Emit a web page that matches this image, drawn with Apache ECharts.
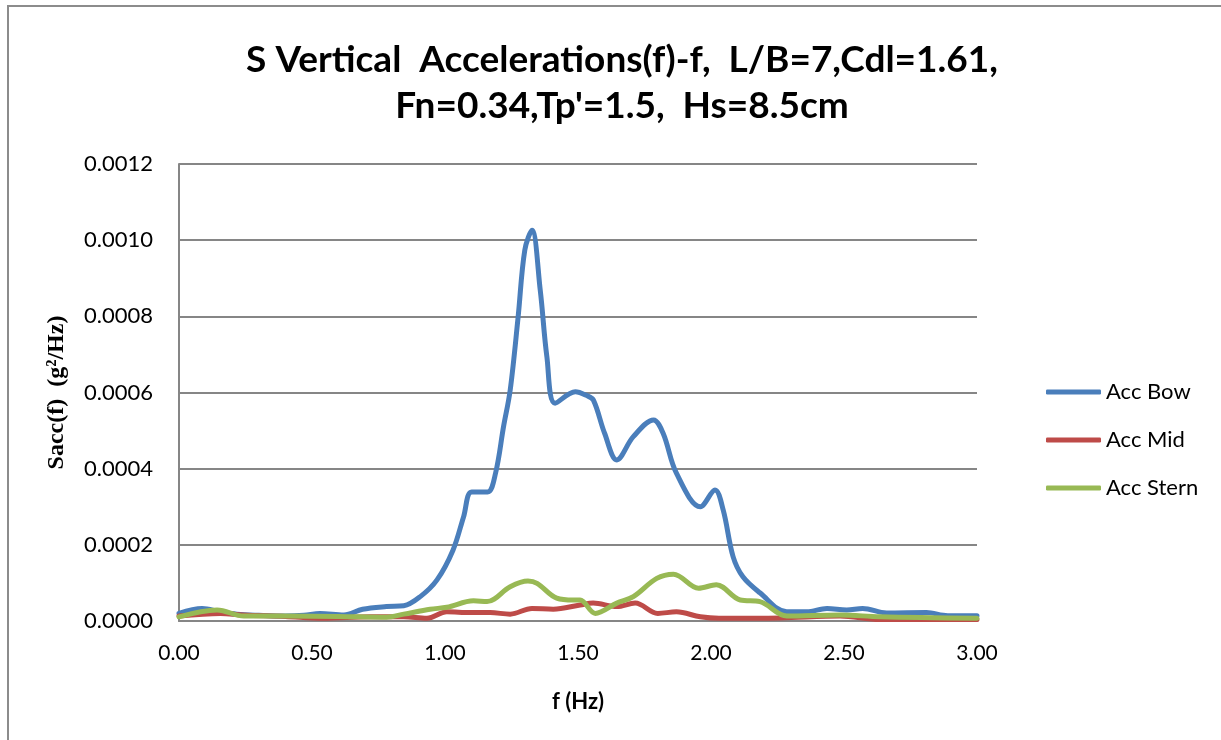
<!DOCTYPE html>
<html>
<head>
<meta charset="utf-8">
<script src="https://cdn.jsdelivr.net/npm/echarts@6/dist/echarts.min.js"></script>
<style>
  html, body { margin: 0; padding: 0; background: #fff; }
  #chart { width: 1221px; height: 740px; }
</style>
</head>
<body>
<div id="chart"></div>
<script>
// Spectral density of vertical accelerations, frequency (Hz) vs Sacc(f) (g²/Hz)
const titleLines = ["S Vertical  Accelerations(f)-f,  L/B=7,Cdl=1.61,", "Fn=0.34,Tp'=1.5,  Hs=8.5cm"];
const seriesNames = ["Acc Bow", "Acc Mid", "Acc Stern"];
const xTicks = [0, 0.5, 1, 1.5, 2, 2.5, 3];
const yTicks = [0, 0.0002, 0.0004, 0.0006, 0.0008, 0.0010, 0.0012];

const bowF = [0.00, 0.087, 0.156, 0.218, 0.30, 0.40, 0.47, 0.53, 0.62, 0.69, 0.78, 0.845, 0.907, 0.97, 1.03, 1.07, 1.10, 1.16, 1.19, 1.22, 1.245, 1.275, 1.30, 1.327, 1.358, 1.383, 1.414, 1.49, 1.533, 1.558, 1.60, 1.646, 1.708, 1.784, 1.82, 1.87, 1.96, 2.015, 2.046, 2.083, 2.12, 2.184, 2.285, 2.36, 2.436, 2.51, 2.57, 2.66, 2.81, 2.89, 3.00];
const bowS = [0.000020, 0.000033, 0.000024, 0.000018, 0.000015, 0.000013, 0.000015, 0.000020, 0.000016, 0.000031, 0.000038, 0.000040, 0.000064, 0.000108, 0.000186, 0.000274, 0.000339, 0.000339, 0.000388, 0.000510, 0.000606, 0.000799, 0.000974, 0.001026, 0.000869, 0.000694, 0.000572, 0.000602, 0.000592, 0.000580, 0.000493, 0.000423, 0.000484, 0.000528, 0.000493, 0.000388, 0.000300, 0.000344, 0.000291, 0.000169, 0.000116, 0.000074, 0.000024, 0.000024, 0.000033, 0.000029, 0.000033, 0.000021, 0.000022, 0.000014, 0.000014];

const midF = [0.00, 0.156, 0.24, 0.40, 0.54, 0.72, 0.845, 0.932, 1.007, 1.095, 1.17, 1.245, 1.327, 1.407, 1.508, 1.557, 1.646, 1.715, 1.80, 1.87, 1.96, 2.03, 2.26, 2.485, 2.635, 3.00];
const midS = [0.000013, 0.000020, 0.000016, 0.000012, 0.000007, 0.000011, 0.000011, 0.000007, 0.000024, 0.000022, 0.000022, 0.000018, 0.000033, 0.000031, 0.000042, 0.000047, 0.000038, 0.000047, 0.000020, 0.000024, 0.000011, 0.000007, 0.000008, 0.000013, 0.000004, 0.000004];

const sternF = [0.00, 0.143, 0.244, 0.40, 0.60, 0.78, 0.845, 0.944, 1.007, 1.107, 1.158, 1.245, 1.312, 1.346, 1.42, 1.483, 1.508, 1.565, 1.646, 1.708, 1.796, 1.859, 1.953, 2.02, 2.11, 2.184, 2.285, 2.485, 2.635, 3.00];
const sternS = [0.000011, 0.000029, 0.000013, 0.000013, 0.000012, 0.000010, 0.000018, 0.000031, 0.000036, 0.000053, 0.000051, 0.000090, 0.000105, 0.000099, 0.000060, 0.000055, 0.000055, 0.000020, 0.000047, 0.000064, 0.000112, 0.000123, 0.000086, 0.000095, 0.000055, 0.000051, 0.000013, 0.000016, 0.000011, 0.000007];

const colors = ["#4a7ebb", "#be4b48", "#98b954"];
const pairs = (xs, ys) => xs.map((x, i) => [x, ys[i]]);
const seriesData = [pairs(bowF, bowS), pairs(midF, midS), pairs(sternF, sternS)];

const labelFont = "Lato, 'Open Sans', sans-serif";
const gridColor = "#868686";

const chart = echarts.init(document.getElementById("chart"), null, { renderer: "canvas" });
chart.setOption({
  backgroundColor: "#ffffff",
  animation: false,
  title: {
    text: titleLines.join("\n"),
    left: 617,
    top: 32,
    textAlign: "center",
    textStyle: {
      fontFamily: "Lato, sans-serif",
      fontWeight: "bold",
      fontSize: 37,
      lineHeight: 46,
      color: "#000"
    }
  },
  graphic: [{
    type: "rect",
    shape: { x: 8, y: 6, width: 1400, height: 900 },
    style: { fill: "none", stroke: "#8c8c8c", lineWidth: 2 },
    silent: true
  }],
  legend: {
    orient: "vertical",
    left: 1041,
    top: 376,
    itemGap: 26,
    itemWidth: 55,
    itemHeight: 5,
    data: seriesNames.map((n, i) => ({
      name: n,
      icon: "roundRect",
      itemStyle: { color: colors[i] }
    })),
    textStyle: { fontFamily: labelFont, fontSize: 22, lineHeight: 22, color: "#000" }
  },
  grid: { left: 179, right: 244, top: 164, bottom: 119, containLabel: false },
  xAxis: {
    type: "value",
    min: xTicks[0],
    max: xTicks[xTicks.length - 1],
    interval: 0.5,
    name: "f (Hz)",
    nameLocation: "middle",
    nameGap: 70,
    nameTextStyle: { fontFamily: labelFont, fontWeight: "bold", fontSize: 22, color: "#000" },
    axisLine: { show: true, lineStyle: { color: gridColor, width: 2 } },
    axisTick: { show: false },
    splitLine: { show: false },
    axisLabel: {
      margin: 22,
      fontFamily: labelFont,
      fontSize: 21,
      color: "#000",
      formatter: v => v.toFixed(2)
    }
  },
  yAxis: {
    type: "value",
    min: yTicks[0],
    max: yTicks[yTicks.length - 1],
    interval: 0.0002,
    name: "Sacc(f)  (g²/Hz)",
    nameLocation: "middle",
    nameGap: 110,
    nameRotate: 90,
    nameTextStyle: { fontFamily: "'Liberation Serif', 'DejaVu Serif', serif", fontWeight: "bold", fontSize: 24, color: "#000" },
    axisLine: { show: true, lineStyle: { color: gridColor, width: 2 } },
    axisTick: { show: false },
    splitLine: { show: true, lineStyle: { color: gridColor, width: 2 } },
    axisLabel: {
      margin: 26,
      fontFamily: labelFont,
      fontSize: 22,
      color: "#000",
      formatter: v => v.toFixed(4)
    }
  },
  series: seriesNames.map((n, i) => ({
    name: n,
    type: "line",
    data: seriesData[i],
    smooth: 0.35,
    showSymbol: false,
    symbol: "none",
    lineStyle: { color: colors[i], width: 5, cap: "round", join: "round" },
    itemStyle: { color: colors[i] },
    z: 2 + i
  }))
});
</script>
</body>
</html>
